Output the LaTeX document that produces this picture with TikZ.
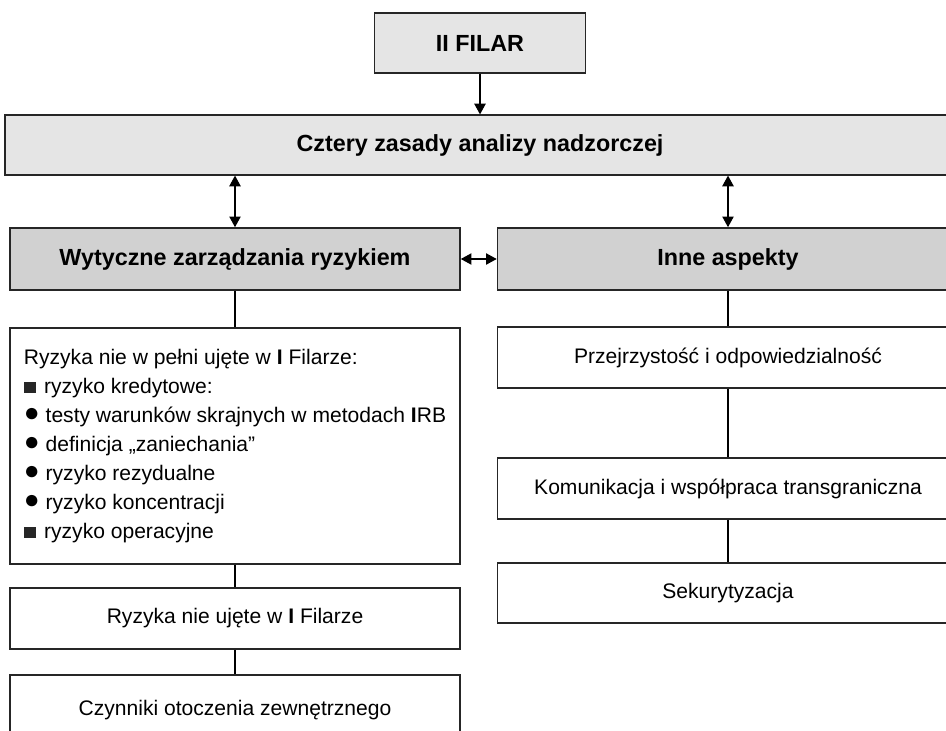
\documentclass[tikz,border=0pt]{standalone}
\usepackage{fontspec}
\setmainfont{Liberation Sans}
\usetikzlibrary{arrows.meta,positioning}
\newcommand{\sqbul}{{\color{black!85}\rule{8.8pt}{8.8pt}}\hspace{2pt}}
\newcommand{\dotbul}{\raisebox{0.4pt}{\scalebox{1.25}{●}}}

\begin{document}
\begin{tikzpicture}[
  x=0.75pt, y=-0.75pt,
  line width=0.9pt,
  box/.style={draw=black!85, fill=white, inner sep=0pt, align=center,
    font=\fontsize{15.8}{21.75}\selectfont},
  lightbox/.style={box, fill=black!10, font=\fontsize{17.5}{21}\selectfont\bfseries},
  graybox/.style={lightbox, fill=black!18, line width=1.2pt},
  listbox/.style={box, align=left, minimum width=337.5pt, minimum height=177pt},
  link/.style={-{Triangle[length=8pt, width=8.5pt]}},
  dlink/.style={{Triangle[length=8pt, width=8.5pt]}-{Triangle[length=8pt, width=8.5pt]}}
]
  % Page: 946 x 731 px, boxes on the right run past the edge
  \useasboundingbox (0,0) rectangle (946,731);
  \fill[white] (0,0) rectangle (946,731);
  \clip (0,0) rectangle (946,731);

  % Top level
  \node[lightbox, minimum width=158.25pt, minimum height=45pt] (filar) at (480,43) {II FILAR};
  \node[lightbox, minimum width=712.5pt, minimum height=45pt] (zasady) at (480,145)
    {Cztery zasady analizy nadzorczej};

  % Two branches
  \node[graybox, minimum width=337.5pt, minimum height=46.5pt] (wytyczne) at (235,259)
    {Wytyczne zarządzania ryzykiem};
  \node[graybox, minimum width=345.75pt, minimum height=46.5pt] (inne) at (728,259)
    {Inne aspekty};

  % Left column
  \node[listbox] (lista) at (235,446) {Ryzyka nie w pełni ujęte w \textbf{I} Filarze:\\
    \sqbul{} ryzyko kredytowe:\\
    \dotbul{} testy warunków skrajnych w metodach \textbf{I}RB\\
    \dotbul{} definicja „zaniechania”\\
    \dotbul{} ryzyko rezydualne\\
    \dotbul{} ryzyko koncentracji\\
    \sqbul{} ryzyko operacyjne};
  \node[box, minimum width=337.5pt, minimum height=45.75pt] (nieujete) at (235,618.5)
    {Ryzyka nie ujęte w \textbf{I} Filarze};
  \node[box, minimum width=337.5pt, minimum height=52.5pt] (czynniki) at (235,710)
    {Czynniki otoczenia zewnętrznego};

  % Right column
  \node[box, minimum width=345.75pt, minimum height=45.75pt] (przejrz) at (728,357.5)
    {Przejrzystość i odpowiedzialność};
  \node[box, minimum width=345.75pt, minimum height=45.75pt] (komunik) at (728,488.5)
    {Komunikacja i współpraca transgraniczna};
  \node[box, minimum width=345.75pt, minimum height=45pt] (sekur) at (728,593)
    {Sekurytyzacja};

  % Connectors
  \draw[link] (filar.south) -- (zasady.north);
  \draw[dlink] (zasady.south -| wytyczne) -- (wytyczne.north);
  \draw[dlink] (zasady.south -| inne) -- (inne.north);
  \draw[dlink] (wytyczne.east) -- (inne.west);
  \draw (wytyczne.south) -- (lista.north);
  \draw (lista.south) -- (nieujete.north);
  \draw (nieujete.south) -- (czynniki.north);
  \draw (inne.south) -- (przejrz.north);
  \draw (przejrz.south) -- (komunik.north);
  \draw (komunik.south) -- (sekur.north);
\end{tikzpicture}
\end{document}
